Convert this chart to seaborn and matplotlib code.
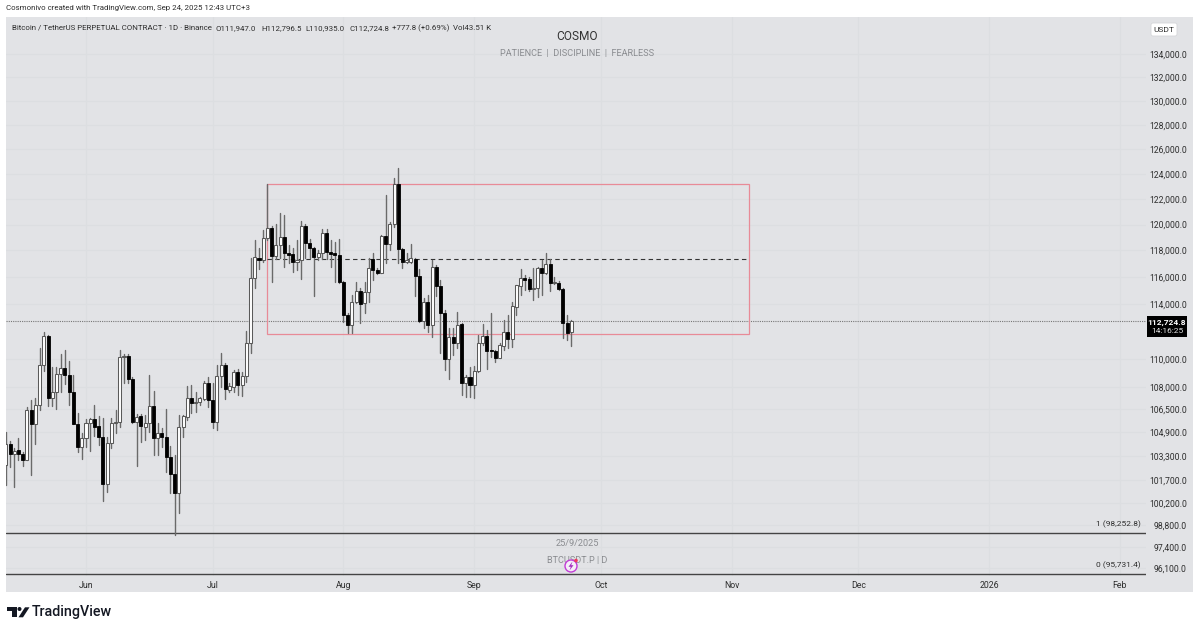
import pandas as pd
import matplotlib
matplotlib.use('Agg')
import matplotlib.pyplot as plt
import matplotlib.dates as mdates
from matplotlib.patches import Rectangle, Circle, Polygon, FancyBboxPatch
from matplotlib.ticker import NullLocator, NullFormatter
from matplotlib.transforms import IdentityTransform
import seaborn as sns

# daily candles 13 May - 24 Sep 2025
dates = pd.date_range('2025-05-13', '2025-09-24')
opens = [
    102703,104108,103436,103685,103416,103055,106423,105463,106747,109568,111644,107232,107670,108930,109335,108860,107650,105484,103926,
    104533,105510,105784,105328,104600,101447,104195,105510,105620,110137,110209,108580,105600,106010,105260,105532,106700,104512,104851,104580,103235,102107,100858,105260,105942,107253,106907,106976,107184,108300,
    107114,105600,108790,109568,107810,108020,109073,108160,108790,111140,115914,117426,117274,118954,119727,117578,118417,119030,117806,117730,117122,117274,119883,118570,118187,117502,117806,119340,117882,117806,117654,
    115615,113172,112441,114127,114944,114053,114870,117350,116516,116290,119107,118493,120040,123187,118110,117122,117122,117350,116065,112733,114127,112441,116743,115316,113318,109994,111572,111140,112514,108300,108720,
    108160,109143,111140,111644,110637,110565,110066,110924,111933,111428,113757,115316,115914,115840,115092,115167,116667,116290,116970,115540,115540,115092,112587,111947]
highs = [
    104940,104330,103818,104533,103590,106608,107114,107232,110760,111955,111716,109405,109405,110350,110637,109873,108860,106237,104872,
    105784,105852,106768,106010,105852,104560,105852,106423,110637,110350,110350,108720,106150,106150,106080,108860,107740,105532,105190,106492,103973,103370,106080,106080,108090,108160,107670,107322,108440,108720,
    108300,109568,110423,109710,108300,109214,109285,109073,112005,117426,118800,118187,119572,123187,119883,120040,120896,120740,118417,118187,118800,120272,120040,118877,118264,118034,119650,119650,118800,118647,118877,
    115690,113318,114646,115615,115167,115615,117426,117806,116667,119185,122310,120195,123667,124468,118187,117806,118493,117426,116592,114423,114646,117274,116895,115764,113538,112223,112223,113391,112587,108860,109427,
    109497,111716,112514,112078,113318,110637,111140,112805,113172,114127,115390,116592,116140,115990,116667,116743,117274,117806,117350,115990,115690,115167,113172,112796.5]
lows = [
    101380,102590,101270,103035,102636,103035,102040,104108,106423,109165,106700,106700,106513,107691,108229,106768,105443,103590,103082,
    103926,103657,104648,104040,100357,100942,103818,104830,105280,108300,108300,105532,102636,104242,104377,104920,103370,103370,103906,102239,100858,98154,99560,104580,105736,106217,106286,106768,107114,106630,
    105190,105055,108020,107184,107670,107670,107460,107392,108370,110423,115167,116592,117122,118800,115615,117350,117426,116743,117046,116366,116516,115840,117426,117426,114572,117274,117350,117350,116743,115615,115540,
    112660,111860,111860,114053,112587,113318,114127,115764,116215,116290,117046,118034,119805,117046,116667,117046,117046,114572,112660,112223,111933,111572,114572,110423,109214,108580,110280,110780,107460,107322,107322,
    107253,109073,110996,109285,110137,109781,110066,110637,110780,110852,113172,114646,115018,114944,114275,114498,114646,116215,114944,115466,115018,111500,111355,110935]
closes = [
    104108,103436,103657,103416,103055,106423,105463,106768,109568,111644,107232,107670,108930,109335,108860,107650,105484,103926,104533,
    105552,105784,105280,104600,101447,104195,105510,105620,110158,110245,108580,105600,105942,105328,105532,106700,104512,104851,104580,103235,102107,100858,105260,106010,107253,106907,106976,107253,108300,107114,
    105600,108790,109568,107880,108090,109073,108160,108790,111140,115914,117502,117274,118954,119727,117578,118417,119030,117806,117654,117122,117274,119883,118570,118187,117502,117806,119340,117882,117730,117654,115615,
    113172,112441,114127,114944,113980,114870,116667,116516,116290,119107,118493,120040,123187,118110,117122,117274,117426,116065,112733,114127,112441,116743,115316,113318,109994,111572,111140,112441,108300,108720,108160,
    109143,111140,111644,110565,110565,110066,110996,111933,111428,113830,115390,115914,115764,115092,115167,116667,116290,116970,115540,115615,115092,112587,111860,112724.8]

price_ticks = [134000,132000,130000,128000,126000,124000,122000,120000,118000,116000,114000,
               110000,108000,106500,104900,103300,101700,100200,98800,97400,96100]
month_ticks = ['2025-06-01','2025-07-01','2025-08-01','2025-09-01','2025-10-01','2025-11-01',
               '2025-12-01','2026-01-01','2026-02-01']
month_labels = ['Jun','Jul','Aug','Sep','Oct','Nov','Dec','2026','Feb']

last_price = 112724.8
fib_one = 98252.8
fib_zero = 95731.4
box_top = 123187
box_bottom = 111790
box_mid = 117350
box_start = '2025-07-14'
box_end = '2025-11-05'

PANE = '#e2e3e6'
GRID = '#dcdee1'
TEXT = '#2e2e2e'

sns.set_theme(style='darkgrid', rc={'axes.facecolor': PANE, 'grid.color': GRID, 'grid.linewidth': 0.8,
                                    'figure.facecolor': 'white'})
plt.rcParams['font.family'] = ['Roboto', 'DejaVu Sans']

df = pd.DataFrame({'date': dates, 'open': opens, 'high': highs, 'low': lows, 'close': closes})
df['x'] = mdates.date2num(df['date'])
df['body_low'] = df[['open', 'close']].min(axis=1)
df['body_size'] = (df['close'] - df['open']).abs()

wicks = df.melt(id_vars=['x'], value_vars=['low', 'high'], value_name='price')

fig = plt.figure(figsize=(12, 6.32), dpi=100)
ax = fig.add_axes([6 / 1200, 1 - 576 / 632, 1140 / 1200, 559 / 632])


def px(x, y):
    return x, 632 - y


def fig_text(x, y, s, **kw):
    kw.setdefault('va', 'center')
    kw.setdefault('color', TEXT)
    fig.text(x / 1200, 1 - y / 632, s, **kw)


# grey pane behind chart and both axes
fig.add_artist(Rectangle(px(6, 592), 1187, 575, transform=IdentityTransform(), fc=PANE, ec='none', zorder=-5))

sns.lineplot(data=wicks, x='x', y='price', units='x', estimator=None, color='#6a6a6a',
             linewidth=1.0, legend=False, ax=ax, zorder=2)

up = df[df['close'] >= df['open']]
down = df[df['close'] < df['open']]
sns.barplot(x=up['x'], y=up['body_size'], bottom=up['body_low'].values, native_scale=True, width=0.72,
            color='white', saturation=1, edgecolor='#5a5a5a', linewidth=0.75, errorbar=None, ax=ax, zorder=3)
sns.barplot(x=down['x'], y=down['body_size'], bottom=down['body_low'].values, native_scale=True, width=0.72,
            color='black', saturation=1, edgecolor='black', linewidth=0.6, errorbar=None, ax=ax, zorder=3)

ax.set_yscale('log')
ax.set_ylim(95586, 137248)
jun1 = mdates.date2num(pd.Timestamp('2025-06-01'))
ax.set_xlim(jun1 - 18.96, jun1 + 251.2)

ax.yaxis.tick_right()
ax.set_yticks(price_ticks)
ax.set_yticklabels([f'{p:,.1f}' for p in price_ticks])
ax.yaxis.set_minor_locator(NullLocator())
ax.yaxis.set_minor_formatter(NullFormatter())
ax.tick_params(axis='y', length=0, pad=29.5, labelsize=6.2, labelcolor=TEXT)
for lab in ax.get_yticklabels():
    lab.set_ha('right')
ax.set_xticks(mdates.date2num(pd.to_datetime(month_ticks)))
ax.set_xticklabels(month_labels)
ax.tick_params(axis='x', length=0, pad=3.6, labelsize=6.3, labelcolor=TEXT)
ax.set_xlabel('')
ax.set_ylabel('')
for s in ax.spines.values():
    s.set_visible(False)

# range box and levels
x0 = mdates.date2num(pd.Timestamp(box_start))
x1 = mdates.date2num(pd.Timestamp(box_end))
ax.add_patch(Rectangle((x0, box_bottom), x1 - x0, box_top - box_bottom, fill=False, ec='#e88b97', lw=0.9, zorder=1.5))
ax.plot([x0, x1], [box_mid, box_mid], color='#333333', lw=0.8, ls=(0, (4, 3)), zorder=1.6)
ax.axhline(last_price, color='#777777', lw=0.8, ls=(0, (1, 1)), zorder=1.4)
ax.axhline(fib_one, color='#444444', lw=1.0, zorder=1.7)
ax.axhline(fib_zero, color='#444444', lw=1.0, zorder=1.7)

# headers
fig_text(6, 8, 'Cosmonivo created with TradingView.com, Sep 24, 2025 12:43 UTC+3', fontsize=5.65)
fig_text(12, 28, 'Bitcoin / TetherUS PERPETUAL CONTRACT · 1D · Binance', fontsize=5.7)
for x, s in [(216, 'O111,947.0'), (261, 'H112,796.5'), (305, 'L110,935.0'), (349, 'C112,724.8'),
             (392, '+777.8 (+0.69%)'), (453, 'Vol43.51 K')]:
    fig_text(x, 28, s, fontsize=5.7)
fig_text(577, 36, 'COSMO', fontsize=8.6, ha='center', color='#333333')
fig_text(577, 53.5, 'PATIENCE  |  DISCIPLINE  |  FEARLESS', fontsize=6.6, ha='center', color='#8a8c90')
fig_text(577, 543, '25/9/2025', fontsize=6.6, ha='center', color='#8a8c90')
fig_text(577, 560, 'BTCUSDT.P | D', fontsize=6.6, ha='center', color='#8a8c90')
fig_text(1141, 524, '1 (98,252.8)', fontsize=6.0, ha='right')
fig_text(1141, 565, '0 (95,731.4)', fontsize=6.0, ha='right')

# lightning marker over the watermark
id_tr = IdentityTransform()
fig.add_artist(Circle(px(571, 566), 6, transform=id_tr, fc='#f4eef7', ec='#c23bd6', lw=1.0, zorder=6))
fig.add_artist(Circle(px(576, 560.5), 1.8, transform=id_tr, fc='#ef3b5a', ec='none', zorder=7))
bolt = [(572.5, 561.5), (568.5, 566.8), (570.8, 566.8), (569.5, 570.5), (573.5, 565.2), (571.2, 565.2)]
fig.add_artist(Polygon([px(*p) for p in bolt], transform=id_tr, fc='#a52cc0', ec='none', zorder=7))

# currency button
fig.add_artist(FancyBboxPatch(px(1151, 36), 26, 13, boxstyle='round,pad=0,rounding_size=2', transform=id_tr,
                              fc='white', ec='#d5d6d9', lw=0.6, zorder=5))
fig.text(1164 / 1200, 1 - 29.5 / 632, 'USDT', fontsize=6.0, ha='center', va='center', color=TEXT, zorder=6)

# last price tag
fig.add_artist(Rectangle(px(1147, 337), 40, 21, transform=id_tr, fc='black', ec='none', zorder=5))
fig.text(1167 / 1200, 1 - 322 / 632, '112,724.8', fontsize=6.0, ha='center', va='center', color='white',
         fontweight='bold', zorder=6)
fig.text(1167 / 1200, 1 - 331 / 632, '14:16:25', fontsize=6.0, ha='center', va='center', color='#e4e4e4', zorder=6)

# TradingView mark
for pts in ([(7.3, 607.3), (17, 607.3), (17, 617.3), (12, 617.3), (12, 611), (7.3, 611)],
            [(25, 607.3), (29.5, 607.3), (23, 617.3), (18.5, 617.3)]):
    fig.add_artist(Polygon([px(*p) for p in pts], transform=id_tr, fc='#131722', ec='none'))
fig.add_artist(Circle(px(19.5, 609), 2, transform=id_tr, fc='#131722', ec='none'))
fig_text(32, 612, 'TradingView', fontsize=10.3, fontweight='medium', color='#131722')

fig.savefig('out.png', dpi=100)
